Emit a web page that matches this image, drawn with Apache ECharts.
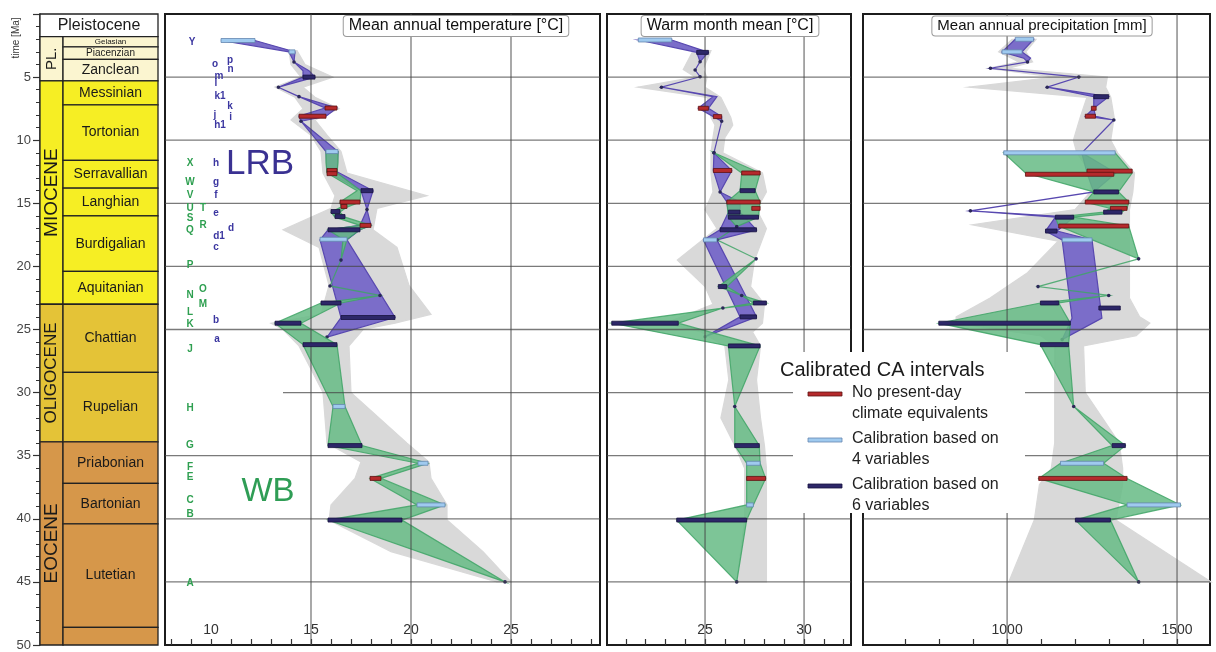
<!DOCTYPE html>
<html>
<head>
<meta charset="utf-8">
<script src="https://cdn.jsdelivr.net/npm/echarts@6/dist/echarts.min.js"></script>
<style>
html, body { margin: 0; padding: 0; background: #fff; }
#chart { width: 1216px; height: 652px; }
</style>
</head>
<body>
<div id="chart"></div>
<script>
// geological time scale (Ma)
const epochNames = ['Pleistocene', 'PL.', 'MIOCENE', 'OLIGOCENE', 'EOCENE']
const epochTop = [0, 1.8, 5.3, 23.0, 33.9]
const epochBase = [1.8, 5.3, 23.0, 33.9, 50]
const stageNames = ['Gelasian', 'Piacenzian', 'Zanclean', 'Messinian', 'Tortonian', 'Serravallian', 'Langhian',
  'Burdigalian', 'Aquitanian', 'Chattian', 'Rupelian', 'Priabonian', 'Bartonian', 'Lutetian', '']
const stageTop = [1.8, 2.6, 3.6, 5.3, 7.2, 11.6, 13.8, 16.0, 20.4, 23.0, 28.4, 33.9, 37.2, 40.4, 48.6]
const stageBase = [2.6, 3.6, 5.3, 7.2, 11.6, 13.8, 16.0, 20.4, 23.0, 28.4, 33.9, 37.2, 40.4, 48.6, 50]
const stageEpoch = [1, 1, 1, 2, 2, 2, 2, 2, 2, 3, 3, 4, 4, 4, 4]

// Mean annual temperature [°C]  -- [age, low, high]
const matGray = [[2.9, 13.9, 14.3], [4.0, 14.0, 14.7], [5.0, 14.5, 16.1], [5.8, 13.2, 14.6], [6.6, 14.2, 15.2],
  [7.5, 14.6, 16.4], [8.4, 14.0, 15.2], [9.6, 15.0, 15.8], [10.9, 15.5, 16.5], [12.6, 15.6, 16.8], [14.4, 16.2, 20.8],
  [15.4, 16.0, 18.3], [17.1, 13.6, 18.1], [18.5, 15.4, 19.3], [21.5, 15.9, 19.9], [23.8, 15.5, 21.0], [24.5, 13.0, 19.2],
  [25.0, 13.6, 17.6], [26.3, 14.4, 16.9], [30.0, 15.6, 17.0], [34.0, 15.8, 19.8], [35.5, 17.5, 20.9], [36.8, 17.2, 21.0],
  [38.9, 16.0, 21.8], [40.1, 15.9, 21.8], [42.6, 19.0, 23.6], [45.0, 24.3, 25.0]]
const matLrb = [[2.1, 10.5, 12.2], [3.0, 13.9, 14.2], [3.8, 14.15, 14.15], [4.5, 14.6, 14.9], [5.0, 14.6, 15.2],
  [5.8, 13.37, 13.37], [6.55, 14.4, 14.4], [7.45, 15.7, 16.3], [8.1, 14.4, 15.75], [8.5, 14.5, 14.5], [10.9, 15.75, 16.35],
  [12.5, 15.8, 16.3], [14.0, 17.5, 18.1], [15.5, 17.8, 17.8], [16.75, 17.45, 18.0], [17.1, 15.85, 17.45],
  [17.9, 15.45, 16.8], [24.05, 16.5, 19.2], [25.6, 15.8, 15.8]]
const matWb = [[10.9, 15.75, 16.35], [11.8, 15.75, 16.35], [12.6, 15.8, 16.3], [14.0, 17.3, 17.5], [14.9, 16.45, 17.45],
  [15.3, 16.5, 16.8], [15.7, 16.0, 16.45], [16.1, 16.2, 16.7], [16.75, 17.45, 18.0], [17.1, 15.85, 17.45],
  [17.85, 16.6, 16.8], [19.5, 16.5, 16.5], [21.55, 15.95, 15.95], [22.3, 18.45, 18.45], [22.9, 15.5, 16.5],
  [24.5, 13.2, 14.5], [26.2, 14.6, 16.3], [31.1, 16.1, 16.7], [34.2, 15.85, 17.55], [35.6, 20.35, 20.85],
  [36.8, 17.95, 18.5], [38.9, 20.3, 21.7], [40.1, 15.85, 19.55], [45.0, 24.7, 24.7]]
// [age, low, high, kind]  kind: 0 no analogue, 1 four variables, 2 six variables
const matBars = [[2.1, 10.5, 12.2, 1], [3.0, 13.9, 14.2, 1], [5.0, 14.6, 15.2, 2], [7.45, 15.7, 16.3, 0],
  [8.1, 14.4, 15.75, 0], [10.9, 15.75, 16.35, 1], [12.4, 15.8, 16.3, 0], [12.65, 15.8, 16.3, 0], [14.0, 17.5, 18.1, 2],
  [14.9, 16.45, 17.45, 0], [15.25, 16.5, 16.8, 0], [15.65, 16.0, 16.45, 2], [16.05, 16.2, 16.7, 2], [16.75, 17.45, 18.0, 0],
  [17.1, 15.85, 17.45, 2], [17.85, 15.45, 16.8, 1], [22.9, 15.5, 16.5, 2], [24.05, 16.5, 19.2, 2], [24.5, 13.2, 14.5, 2],
  [26.2, 14.6, 16.3, 2], [31.1, 16.1, 16.7, 1], [34.2, 15.85, 17.55, 2], [35.6, 20.35, 20.85, 1], [36.8, 17.95, 18.5, 0],
  [38.9, 20.3, 21.7, 1], [40.1, 15.85, 19.55, 2]]

// Warm month mean [°C]
const wmmGray = [[2.9, 24.4, 25.3], [4.4, 23.9, 24.9], [5.0, 24.5, 25.1], [5.8, 21.6, 25.0], [6.6, 25.1, 25.8],
  [8.2, 25.3, 26.3], [8.8, 25.5, 26.4], [9.8, 25.4, 26.0], [11.0, 25.3, 25.9], [12.6, 25.3, 27.9], [14.1, 25.4, 28.1],
  [15.5, 25.0, 27.6], [17.0, 25.6, 28.1], [19.5, 23.6, 27.5], [21.6, 25.0, 27.3], [23.0, 25.4, 28.0], [24.5, 23.0, 27.9],
  [25.2, 24.8, 27.4], [26.3, 26.0, 27.8], [29.0, 26.2, 27.6], [32.0, 25.8, 27.8], [34.2, 26.5, 28.0], [36.0, 27.0, 28.1],
  [40.1, 27.0, 28.1], [45.0, 26.6, 28.1]]
const wmmLrb = [[2.06, 21.63, 23.32], [3.04, 24.58, 25.17], [3.78, 24.75, 24.75], [4.44, 24.5, 24.5], [4.97, 24.75, 24.75],
  [5.8, 22.8, 22.8], [6.55, 25.4, 25.6], [7.47, 24.66, 25.17], [8.13, 25.42, 25.84], [8.5, 25.84, 25.84], [11.0, 25.45, 25.45],
  [12.4, 25.42, 26.35], [14.1, 25.76, 25.76], [14.9, 26.1, 26.77], [15.7, 26.18, 26.77], [17.1, 25.76, 27.6],
  [17.9, 24.92, 25.6], [24.0, 26.77, 27.6], [25.57, 25.0, 25.0]]
const wmmWb = [[11.0, 25.45, 25.45], [12.6, 26.85, 27.78], [14.0, 26.77, 27.53], [14.9, 26.1, 27.78], [16.1, 26.18, 27.7],
  [16.85, 26.6, 26.6], [17.9, 25.6, 25.6], [19.4, 27.58, 27.58], [21.6, 25.67, 26.1], [22.3, 26.85, 26.85],
  [22.9, 27.44, 28.1], [23.3, 25.9, 25.9], [24.5, 20.29, 23.65], [26.3, 26.18, 27.78], [31.1, 26.5, 26.5],
  [34.2, 26.5, 27.74], [35.6, 27.1, 27.78], [36.8, 27.1, 28.06], [38.9, 27.1, 27.44], [40.1, 23.57, 27.1], [45.0, 26.6, 26.6]]
const wmmBars = [[2.06, 21.63, 23.32, 1], [3.04, 24.58, 25.17, 2], [7.47, 24.66, 25.17, 0], [8.13, 25.42, 25.84, 0],
  [12.4, 25.42, 26.35, 0], [12.6, 26.85, 27.78, 0], [14.0, 26.77, 27.53, 2], [14.9, 26.1, 27.78, 0], [15.4, 27.36, 27.78, 0],
  [15.7, 26.18, 26.77, 2], [16.1, 26.18, 27.7, 2], [17.1, 25.76, 27.6, 2], [17.9, 24.92, 25.6, 1], [21.6, 25.67, 26.1, 2],
  [22.9, 27.44, 28.1, 2], [24.0, 26.77, 27.6, 2], [24.5, 20.29, 23.65, 2], [26.3, 26.18, 27.78, 2], [34.2, 26.5, 27.74, 2],
  [35.6, 27.1, 27.78, 1], [36.8, 27.1, 28.06, 0], [38.9, 27.1, 27.44, 1], [40.1, 23.57, 27.1, 2]]

// Mean annual precipitation [mm]
const mapGray = [[2.0, 1015, 1085], [3.0, 975, 1055], [3.8, 1035, 1075], [4.3, 945, 1005], [5.0, 1140, 1295],
  [5.8, 887, 1290], [6.6, 1235, 1305], [8.2, 1215, 1315], [10.0, 1195, 1305], [11.0, 1205, 1325], [12.6, 1245, 1375],
  [14.1, 1245, 1370], [15.5, 1200, 1360], [16.7, 897, 1360], [18.0, 1150, 1360], [20.5, 1060, 1360], [22.5, 950, 1360],
  [24.0, 850, 1390], [24.5, 850, 1420], [25.5, 1100, 1380], [26.3, 1140, 1225], [30.0, 1140, 1230], [34.0, 1140, 1330],
  [36.0, 1130, 1340], [37.3, 1095, 1340], [40.1, 1080, 1320], [45.0, 1005, 1600]]
const mapLrb = [[2.0, 1024, 1078], [3.0, 985, 1044], [3.5, 1049, 1069], [3.8, 1060, 1060], [4.3, 951, 951], [5.0, 1211, 1211],
  [5.8, 1118, 1118], [6.55, 1255, 1299], [7.47, 1255, 1255], [8.1, 1230, 1260], [8.4, 1314, 1314], [11.0, 1220, 1220],
  [12.6, 1235, 1320], [14.1, 1255, 1255], [15.6, 892, 892], [16.1, 1142, 1196], [17.2, 1113, 1147], [17.9, 1162, 1250],
  [24.1, 1191, 1279], [25.8, 1162, 1162]]
const mapWb = [[11.0, 990, 1318], [12.6, 1054, 1368], [14.1, 1255, 1328], [14.9, 1230, 1358], [15.4, 1304, 1353],
  [15.7, 1284, 1338], [16.1, 1142, 1196], [16.8, 1152, 1358], [19.4, 1387, 1387], [21.6, 1091, 1091], [22.3, 1299, 1299],
  [22.9, 1098, 1152], [24.5, 799, 1186], [26.2, 1098, 1181], [31.1, 1196, 1196], [34.2, 1309, 1348], [35.6, 1157, 1284],
  [36.8, 1093, 1353], [38.9, 1353, 1510], [40.1, 1201, 1304], [45.0, 1387, 1387]]
const mapBars = [[2.0, 1024, 1078, 1], [3.0, 985, 1044, 1], [6.55, 1255, 1299, 2], [7.47, 1248, 1262, 0], [8.1, 1230, 1260, 0],
  [11.0, 990, 1318, 1], [12.45, 1235, 1368, 0], [12.7, 1054, 1314, 0], [14.1, 1255, 1328, 2], [14.9, 1230, 1358, 0],
  [15.4, 1304, 1353, 0], [15.7, 1284, 1338, 2], [16.1, 1142, 1196, 2], [16.8, 1152, 1358, 0], [17.2, 1113, 1147, 2],
  [17.9, 1162, 1250, 1], [22.9, 1098, 1152, 2], [23.3, 1270, 1333, 2], [24.5, 799, 1186, 2], [26.2, 1098, 1181, 2],
  [34.2, 1309, 1348, 2], [35.6, 1157, 1284, 1], [36.8, 1093, 1353, 0], [38.9, 1353, 1510, 1], [40.1, 1201, 1304, 2]]

// site letters, placed on the temperature panel  [text, x value, age]
const lrbLetters = [['Y', 9.05, 2.2], ['p', 10.95, 3.65], ['o', 10.2, 3.95], ['n', 10.98, 4.4], ['m', 10.4, 4.9],
  ['l', 10.25, 5.5], ['k1', 10.45, 6.55], ['k', 10.95, 7.3], ['j', 10.2, 8.0], ['i', 10.98, 8.2], ['h1', 10.45, 8.8],
  ['h', 10.25, 11.85], ['g', 10.25, 13.3], ['f', 10.25, 14.35], ['e', 10.25, 15.8], ['d', 11.0, 17.0], ['d1', 10.4, 17.65],
  ['c', 10.25, 18.45], ['b', 10.25, 24.25], ['a', 10.3, 25.75]]
const wbLetters = [['X', 8.95, 11.85], ['W', 8.95, 13.3], ['V', 8.95, 14.35], ['U', 8.95, 15.4], ['T', 9.6, 15.4],
  ['S', 8.95, 16.2], ['R', 9.6, 16.7], ['Q', 8.95, 17.1], ['P', 8.95, 19.9], ['O', 9.6, 21.8], ['N', 8.95, 22.3],
  ['M', 9.6, 23.0], ['L', 8.95, 23.6], ['K', 8.95, 24.55], ['J', 8.95, 26.6], ['H', 8.95, 31.25], ['G', 8.95, 34.2],
  ['F', 8.95, 35.9], ['E', 8.95, 36.7], ['C', 8.95, 38.5], ['B', 8.95, 39.6], ['A', 8.95, 45.1]]

// axis ticks
const gridAges = [5, 10, 15, 20, 25, 30, 35, 40, 45]
const matTicks = [8, 9, 10, 11, 12, 13, 14, 15, 16, 17, 18, 19, 20, 21, 22, 23, 24, 25, 26, 27, 28, 29]
const matLabels = [10, 15, 20, 25]
const matVLines = [15, 20, 25]
const wmmTicks = [21, 22, 23, 24, 25, 26, 27, 28, 29, 30, 31, 32]
const wmmLabels = [25, 30]
const wmmVLines = [25, 30]
const mapTicks = [700, 800, 900, 1000, 1100, 1200, 1300, 1400, 1500, 1600]
const mapLabels = [1000, 1500]
const mapVLines = [1000, 1500]

// ---- styles ----
const FONT = 'Liberation Sans, Arial, sans-serif'
const epochFill = ['#ffffff', '#fbf5d0', '#f6ee24', '#e4c337', '#d6974a']
const epochFont = ['16px', '15px', '19px', '17px', '19px']
const GRAY = '#d9d9d9'
const PURPLE = '#7b6dc9'
const PURPLE_EDGE = '#5848b0'
const GREEN = '#66bb85'
const GREEN_EDGE = '#3fa466'
const LINE = 'rgba(70,70,70,0.72)'
const barFill = ['#b52a2c', '#9fcaef', '#2d2768']
const barEdge = ['#5e1212', '#6486b0', '#17123f']
const TOP = 14
const HEIGHT = 631
const panels = [
  { left: 165, width: 435, min: 7.7, max: 29.45, ticks: matTicks, labels: matLabels, vlines: matVLines, lineFrom: { 30: 13.6 } },
  { left: 607, width: 244, min: 20.05, max: 32.37, ticks: wmmTicks, labels: wmmLabels, vlines: wmmVLines, lineFrom: {} },
  { left: 863, width: 347, min: 576, max: 1597, ticks: mapTicks, labels: mapLabels, vlines: mapVLines, lineFrom: {} }
]

const chart = echarts.init(document.getElementById('chart'))

const txt = (text, font, fill, extra) => Object.assign({
  text, font, fill, align: 'center', verticalAlign: 'middle'
}, extra || {})

const bandSeries = (k, band, fill, stroke, z, opacity) => ({
  type: 'custom', xAxisIndex: k, yAxisIndex: k, z, silent: true, animation: false,
  data: band,
  renderItem: (params, api) => {
    if (params.dataIndex !== 0) return null
    const lo = band.map(d => api.coord([d[1], d[0]]))
    const hi = band.map(d => api.coord([d[2], d[0]])).reverse()
    const children = [{
      type: 'polygon', shape: { points: lo.concat(hi) },
      style: { fill, stroke, lineWidth: 1.2, opacity }
    }]
    band.forEach(d => {
      if (d[1] === d[2]) {
        const p = api.coord([d[1], d[0]])
        children.push({ type: 'circle', shape: { cx: p[0], cy: p[1], r: 1.8 }, style: { fill: '#2b2858' } })
      }
    })
    return { type: 'group', children }
  }
})

const barSeries = (k, bars) => ({
  type: 'custom', xAxisIndex: k, yAxisIndex: k, z: 8, silent: true, animation: false,
  data: bars,
  renderItem: (params, api) => {
    const d = bars[params.dataIndex]
    const a = api.coord([d[1], d[0]])
    const b = api.coord([d[2], d[0]])
    return {
      type: 'rect',
      shape: { x: a[0], y: a[1] - 2, width: Math.max(b[0] - a[0], 3), height: 4 },
      style: { fill: barFill[d[3]], stroke: barEdge[d[3]], lineWidth: 0.8 }
    }
  }
})

const gridLineSeries = (k) => ({
  type: 'custom', xAxisIndex: k, yAxisIndex: k, z: 6, silent: true, animation: false,
  data: [0],
  renderItem: (params, api) => {
    const p = panels[k - 1]
    const children = []
    gridAges.forEach(age => {
      const a = api.coord([p.lineFrom[age] !== undefined ? p.lineFrom[age] : p.min, age])
      const b = api.coord([p.max, age])
      children.push({ type: 'line', shape: { x1: a[0], y1: a[1], x2: b[0], y2: b[1] },
        style: { stroke: LINE, lineWidth: 1.3 } })
    })
    p.vlines.forEach(v => {
      const a = api.coord([v, 0])
      const b = api.coord([v, 50])
      children.push({ type: 'line', shape: { x1: a[0], y1: a[1], x2: b[0], y2: b[1] },
        style: { stroke: LINE, lineWidth: 1.3 } })
    })
    return { type: 'group', children }
  }
})

const letterSeries = (letters, color) => ({
  type: 'custom', xAxisIndex: 1, yAxisIndex: 1, z: 9, silent: true, animation: false,
  data: letters,
  renderItem: (params, api) => {
    const d = letters[params.dataIndex]
    const p = api.coord([d[1], d[2]])
    return { type: 'text', x: p[0], y: p[1], style: txt(d[0], 'bold 10px ' + FONT, color) }
  }
})

const grids = [{ left: 40, top: TOP, width: 118, height: HEIGHT }].concat(panels.map(p => ({
  left: p.left, top: TOP, width: p.width, height: HEIGHT, show: true,
  borderColor: '#1c1c1c', borderWidth: 2, backgroundColor: '#fff'
})))

const xAxes = [{ gridIndex: 0, type: 'value', min: 0, max: 1, show: false }].concat(panels.map((p, i) => ({
  gridIndex: i + 1, type: 'value', min: p.min, max: p.max, position: 'bottom',
  axisLine: { show: false, onZero: false },
  axisTick: { show: true, inside: true, length: 6, customValues: p.ticks, lineStyle: { color: '#333', width: 1.2 } },
  axisLabel: { show: true, inside: true, margin: 8, customValues: p.labels, fontFamily: FONT, fontSize: 14,
    color: '#333', formatter: v => String(v) },
  splitLine: { show: false }
})))

const yAxes = [{
  gridIndex: 0, type: 'value', inverse: true, min: 0, max: 50, interval: 5,
  axisLine: { show: true, onZero: false, lineStyle: { color: '#333', width: 1.5 } },
  axisTick: { show: true, length: 7, lineStyle: { color: '#333', width: 1.2 } },
  minorTick: { show: true, splitNumber: 5, length: 4, lineStyle: { color: '#333' } },
  axisLabel: { fontFamily: FONT, fontSize: 13, color: '#444', margin: 9, formatter: v => (v === 0 ? '' : String(v)) },
  splitLine: { show: false }
}].concat(panels.map((p, i) => ({
  gridIndex: i + 1, type: 'value', inverse: true, min: 0, max: 50, show: false
})))

const epochSeries = {
  type: 'custom', xAxisIndex: 0, yAxisIndex: 0, z: 2, silent: true, animation: false,
  data: epochNames,
  renderItem: (params, api) => {
    const i = params.dataIndex
    const a = api.coord([0, epochTop[i]])
    const b = api.coord([i === 0 ? 1 : 0.195, epochBase[i]])
    return {
      type: 'group',
      children: [
        { type: 'rect', shape: { x: a[0], y: a[1], width: b[0] - a[0], height: b[1] - a[1] },
          style: { fill: epochFill[i], stroke: '#222', lineWidth: 1.3 } },
        { type: 'text', x: (a[0] + b[0]) / 2, y: (a[1] + b[1]) / 2, rotation: i === 0 ? 0 : Math.PI / 2,
          style: txt(epochNames[i], epochFont[i] + ' ' + FONT, '#1a1a1a') }
      ]
    }
  }
}

const stageSeries = {
  type: 'custom', xAxisIndex: 0, yAxisIndex: 0, z: 2, silent: true, animation: false,
  data: stageNames,
  renderItem: (params, api) => {
    const i = params.dataIndex
    const a = api.coord([0.195, stageTop[i]])
    const b = api.coord([1, stageBase[i]])
    const size = i === 0 ? '8px ' : i === 1 ? '10px ' : '14px '
    return {
      type: 'group',
      children: [
        { type: 'rect', shape: { x: a[0], y: a[1], width: b[0] - a[0], height: b[1] - a[1] },
          style: { fill: epochFill[stageEpoch[i]], stroke: '#222', lineWidth: 1.3 } },
        { type: 'text', x: (a[0] + b[0]) / 2, y: (a[1] + b[1]) / 2,
          style: txt(stageNames[i], size + FONT, '#1a1a1a') }
      ]
    }
  }
}

const series = [epochSeries, stageSeries]
const sets = [[matGray, matLrb, matWb, matBars], [wmmGray, wmmLrb, wmmWb, wmmBars], [mapGray, mapLrb, mapWb, mapBars]]
sets.forEach((s, i) => {
  const k = i + 1
  series.push(bandSeries(k, s[0], GRAY, GRAY, 3, 1))
  series.push(bandSeries(k, s[1], PURPLE, PURPLE_EDGE, 4, 1))
  series.push(bandSeries(k, s[2], GREEN, GREEN_EDGE, 5, 0.85))
  series.push(gridLineSeries(k))
  series.push(barSeries(k, s[3]))
})
series.push(letterSeries(lrbLetters, '#3b36a0'))
series.push(letterSeries(wbLetters, '#2e9f50'))

const titleBox = (text, x, size) => ({
  type: 'text', x, y: 26, z: 20,
  style: txt(text, size + 'px ' + FONT, '#111', {
    backgroundColor: '#fff', borderColor: '#9a9a9a', borderWidth: 1, borderRadius: 3, padding: [2, 5]
  })
})

const legendY = [394, 440, 486]
const legendText = [['No present-day', 'climate equivalents'], ['Calibration based on', '4 variables'],
  ['Calibration based on', '6 variables']]
const legend = [
  { type: 'rect', z: 20, shape: { x: 793, y: 352, width: 232, height: 161 }, style: { fill: '#fff' } },
  { type: 'text', z: 21, x: 780, y: 370,
    style: { text: 'Calibrated CA intervals', font: '20px ' + FONT, fill: '#1a1a1a', align: 'left', verticalAlign: 'middle' } }
]
legendY.forEach((y, i) => {
  legend.push({ type: 'rect', z: 21, shape: { x: 808, y: y - 2, width: 34, height: 4 },
    style: { fill: barFill[i], stroke: barEdge[i], lineWidth: 0.8 } })
  legend.push({ type: 'text', z: 21, x: 852, y: y - 1,
    style: { text: legendText[i][0], font: '16px ' + FONT, fill: '#222', align: 'left', verticalAlign: 'middle' } })
  legend.push({ type: 'text', z: 21, x: 852, y: y + 20,
    style: { text: legendText[i][1], font: '16px ' + FONT, fill: '#222', align: 'left', verticalAlign: 'middle' } })
})

chart.setOption({
  animation: false,
  grid: grids,
  xAxis: xAxes,
  yAxis: yAxes,
  series,
  graphic: [
    { type: 'text', x: 16, y: 38, rotation: Math.PI / 2, z: 20,
      style: txt('time [Ma]', '10px ' + FONT, '#333') },
    titleBox('Mean annual temperature [°C]', 456, 16),
    titleBox('Warm month mean [°C]', 730, 16),
    titleBox('Mean annual precipitation [mm]', 1042, 15),
    { type: 'text', x: 260, y: 164, z: 20, style: txt('LRB', '35px ' + FONT, '#3a3192') },
    { type: 'text', x: 268, y: 492, z: 20, style: txt('WB', '33px ' + FONT, '#2f9d55') }
  ].concat(legend)
})
</script>
</body>
</html>
